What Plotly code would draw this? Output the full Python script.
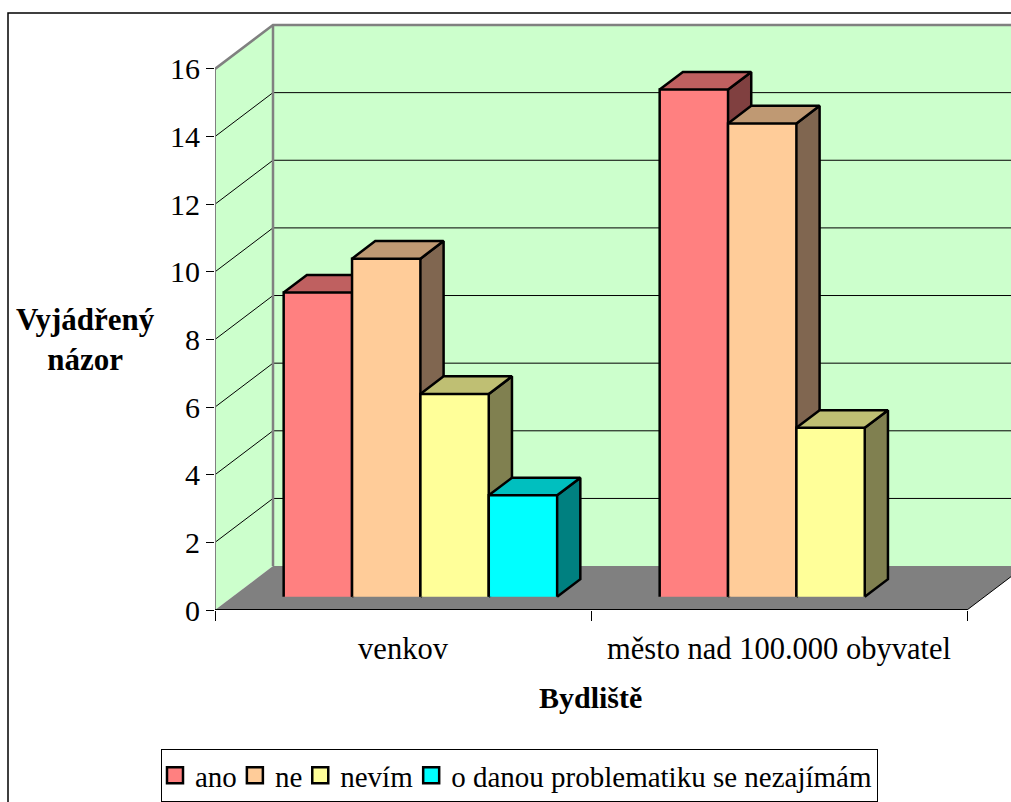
import plotly.graph_objects as go

categories = ["venkov", "město nad 100.000 obyvatel"]
series_names = ["ano", "ne", "nevím", "o danou problematiku se nezajímám"]
venkov_values = [9, 10, 6, 3]
mesto_values = [15, 14, 5, 0]
y_ticks = [0, 2, 4, 6, 8, 10, 12, 14, 16]
front_colors = ["#FF8080", "#FFCC99", "#FFFF99", "#00FFFF"]
top_colors = ["#BF6060", "#BF9973", "#BFBF73", "#00BFBF"]
side_colors = ["#804040", "#806650", "#808050", "#008080"]

# oblique projection used by the 3-D look
DX = 58 / 376   # x shift of full depth, in category units
DY = 44 / 33.875  # y shift of full depth, in value units
Y_MAX = 16
BAR_W = 1 / (len(series_names) + 1.5)
GAP = 0.75 * BAR_W
D_FRONT, D_BACK = 0.3, 0.7


def proj(x, v, d=0.0):
    return x + d * DX, v + d * DY


def poly(points, fill, line="black", width=2.5, clip=True, name=None, legend=False):
    xs, ys = zip(*points)
    return go.Scatter(x=list(xs), y=list(ys), mode="lines", fill="toself", fillcolor=fill,
                      line=dict(color=line, width=width), hoverinfo="skip",
                      showlegend=legend, name=name, cliponaxis=clip)


def edge(points, color, width, clip=True):
    xs, ys = zip(*points)
    return go.Scatter(x=list(xs), y=list(ys), mode="lines", line=dict(color=color, width=width),
                      hoverinfo="skip", showlegend=False, cliponaxis=clip)


fig = go.Figure()
n_cat = len(categories)
WALL = "#CCFFCC"

# walls and floor
fig.add_trace(poly([proj(0, 0), proj(0, Y_MAX), proj(0, Y_MAX, 1), proj(0, 0, 1)], WALL, WALL, 0))
fig.add_trace(poly([proj(0, 0, 1), proj(0, Y_MAX, 1), proj(n_cat, Y_MAX, 1), proj(n_cat, 0, 1)], WALL, WALL, 0))
fig.add_trace(poly([proj(0, 0), proj(0, 0, 1), proj(n_cat, 0, 1), proj(n_cat, 0)], "#808080", "#808080", 0))

# gridlines
for t in y_ticks[1:-1]:
    fig.add_trace(edge([proj(0, t), proj(0, t, 1), proj(n_cat, t, 1)], "black", 1))

# wall outlines
fig.add_trace(edge([proj(0, Y_MAX), proj(0, Y_MAX, 1), proj(n_cat, Y_MAX, 1)], "#808080", 2.5))
fig.add_trace(edge([proj(0, 0, 1), proj(0, Y_MAX, 1)], "#808080", 2.5))
fig.add_trace(edge([proj(n_cat, 0), proj(n_cat, 0, 1)], "black", 1))

# bars
for c, values in enumerate([venkov_values, mesto_values]):
    for s, v in enumerate(values):
        if v == 0:
            continue
        x0 = c + GAP + s * BAR_W
        x1 = x0 + BAR_W
        fig.add_trace(poly([proj(x1, 0, D_FRONT), proj(x1, 0, D_BACK), proj(x1, v, D_BACK), proj(x1, v, D_FRONT)], side_colors[s]))
        fig.add_trace(poly([proj(x0, v, D_FRONT), proj(x0, v, D_BACK), proj(x1, v, D_BACK), proj(x1, v, D_FRONT)], top_colors[s]))
        fig.add_trace(poly([proj(x0, 0, D_FRONT), proj(x0, v, D_FRONT), proj(x1, v, D_FRONT), proj(x1, 0, D_FRONT)], front_colors[s]))

# front axis lines
fig.add_trace(edge([proj(0, 0), proj(0, Y_MAX)], "#808080", 2, clip=False))
fig.add_trace(edge([proj(0, 0), proj(n_cat, 0)], "black", 2, clip=False))

# legend entries
for name, col in zip(series_names, front_colors):
    fig.add_trace(go.Scatter(x=[None], y=[None], mode="markers", name=name,
                             marker=dict(symbol="square", size=16, color=col, line=dict(color="black", width=2.5))))

L, R, T, B = 215, 1011, 21, 611
PX_X, PX_Y = 376, 33.875
FONT = "Liberation Serif"
fig.update_layout(
    width=1011, height=802, autosize=False,
    margin=dict(l=L, r=1011 - R, t=T, b=802 - B, pad=0),
    paper_bgcolor="white", plot_bgcolor="white",
    font=dict(family=FONT, size=30, color="black"),
    xaxis=dict(range=[0, (R - L) / PX_X], tickmode="array", tickvals=[0.5, 1.5], ticktext=categories,
               ticks="outside", ticklen=11, tickcolor="rgba(0,0,0,0)", showgrid=False, zeroline=False,
               showline=False, tickfont=dict(family=FONT, size=30.5),
               minor=dict(tickmode="array", tickvals=[0, 1, 2], ticks="outside", ticklen=10, tickcolor="black", tickwidth=1, showgrid=False)),
    yaxis=dict(range=[0, (B - T) / PX_Y], tickmode="array", tickvals=y_ticks, ticks="outside", ticklen=8,
               tickcolor="black", tickwidth=1, showgrid=False, zeroline=False, showline=False,
               tickfont=dict(family=FONT, size=30)),
    legend=dict(orientation="h", x=(161 - L) / (R - L), xanchor="left", y=(B - 750) / (B - T), yanchor="top",
                bordercolor="black", borderwidth=1, bgcolor="white", font=dict(family=FONT, size=29, color="black"),
                itemwidth=30, indentation=-7, itemclick=False, itemdoubleclick=False),
    annotations=[
        dict(text="<b>Bydliště</b>", x=(590 - L) / (R - L), y=(B - 699) / (B - T), xref="paper", yref="paper",
             xanchor="center", yanchor="middle", showarrow=False, font=dict(family=FONT, size=30)),
        dict(text="<b>Vyjádřený<br>názor</b>", x=(85 - L) / (R - L), y=(B - 340) / (B - T), xref="paper", yref="paper",
             xanchor="center", yanchor="middle", showarrow=False, align="center", font=dict(family=FONT, size=31)),
    ],
    shapes=[dict(type="path", xref="paper", yref="paper", layer="below",
                 path=f"M {(8 - L) / (R - L)} {(B - 810) / (B - T)} L {(8 - L) / (R - L)} {(B - 13) / (B - T)} L {(1020 - L) / (R - L)} {(B - 13) / (B - T)}",
                 line=dict(color="black", width=1.5))],
)
fig.write_html("out.html", config={"displayModeBar": False},
               post_script="document.body.style.margin='0';document.body.style.overflow='hidden';")
